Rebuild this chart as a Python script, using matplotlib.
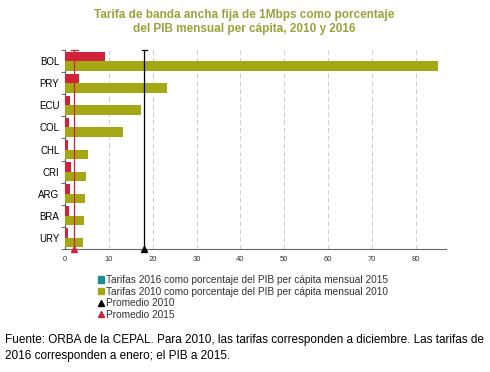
import matplotlib.pyplot as plt
from matplotlib.lines import Line2D
from matplotlib.patches import Patch
import numpy as np

plt.rcParams['font.family'] = ['Liberation Sans', 'DejaVu Sans']

paises = ['BOL', 'PRY', 'ECU', 'COL', 'CHL', 'CRI', 'ARG', 'BRA', 'URY']
tarifas_2016 = [9.2, 3.3, 1.2, 0.9, 0.6, 1.4, 1.05, 1.0, 0.75]
tarifas_2010 = [85.0, 23.2, 17.4, 13.3, 5.2, 4.7, 4.5, 4.3, 4.0]
promedio_2010 = 18.1
promedio_2015 = 2.1

verde = '#a5a815'
rojo = '#d0223a'
teal = '#1f8c96'

fig = plt.figure(figsize=(4.9, 3.72), dpi=100)
ax = fig.add_axes([0.1327, 0.3306, 0.777, 0.535])

n = len(paises)
y = np.arange(n)[::-1]
h = 0.43
ax.barh(y + h / 2, tarifas_2016, height=h, color=rojo, zorder=3)
ax.barh(y - h / 2, tarifas_2010, height=h, color=verde, zorder=3)

ymin, ymax = -0.5, n - 0.5
ax.set_ylim(ymin, ymax)
ax.set_xlim(0, 86.8)

# lineas de promedio
ax.plot([promedio_2010, promedio_2010], [ymin, ymax], color='black', lw=0.9, zorder=4, clip_on=False)
ax.plot([promedio_2010], [ymin], marker='^', color='black', ms=5, zorder=5, clip_on=False)
ax.plot([promedio_2010 - 0.6, promedio_2010 + 0.6], [ymax, ymax], color='black', lw=0.9, clip_on=False)
ax.plot([promedio_2015, promedio_2015], [ymin, ymax], color=rojo, lw=0.9, zorder=4, clip_on=False)
ax.plot([promedio_2015], [ymin], marker='^', color=rojo, ms=5, zorder=5, clip_on=False)
ax.plot([promedio_2015 - 0.8, promedio_2015 + 0.8], [ymax, ymax], color=rojo, lw=0.9, clip_on=False)

ax.set_xticks(range(0, 90, 10))
ax.tick_params(axis='x', length=0, labelsize=5.5, colors='#333333', pad=5)
ax.set_yticks(y)
ax.set_yticklabels(paises, fontsize=7)
ax.set_yticks(np.arange(n + 1) - 0.5, minor=True)
ax.tick_params(axis='y', which='major', length=0, pad=4)
ax.tick_params(axis='y', which='minor', length=3, color='#555555')
ax.grid(axis='x', color='#cccccc', ls=(0, (5, 3)), lw=0.7, zorder=0)
for s in ['top', 'right']:
    ax.spines[s].set_visible(False)
ax.spines['bottom'].set_color('#666666')
ax.spines['left'].set_color('#555555')

fig.text(0.498, 0.975, 'Tarifa de banda ancha fija de 1Mbps como porcentaje\ndel PIB mensual per cápita, 2010 y 2016',
         ha='center', va='top', fontsize=8.5, fontweight='bold', color='#9aa33a', linespacing=1.15)

handles = [
    Patch(color=teal),
    Patch(color=verde),
    Line2D([], [], ls='none', marker='^', color='black', ms=4),
    Line2D([], [], ls='none', marker='^', color=rojo, ms=4),
]
labels = ['Tarifas 2016 como porcentaje del PIB per cápita mensual 2015',
          'Tarifas 2010 como porcentaje del PIB per cápita mensual 2010',
          'Promedio 2010', 'Promedio 2015']
leg = fig.legend(handles, labels, loc='upper left', bbox_to_anchor=(0.2, 0.26), frameon=False,
                 fontsize=7.3, handlelength=0.6, handleheight=0.6, handletextpad=0.2,
                 labelspacing=0.15, borderpad=0, borderaxespad=0)
for t in leg.get_texts():
    t.set_color('#333333')

fig.text(0.01, 0.086, 'Fuente: ORBA de la CEPAL. Para 2010, las tarifas corresponden a diciembre. Las tarifas de',
         ha='left', va='center', fontsize=8.5)
fig.text(0.01, 0.043, '2016 corresponden a enero; el PIB a 2015.', ha='left', va='center', fontsize=8.5)

fig.savefig('out.png', dpi=100)
